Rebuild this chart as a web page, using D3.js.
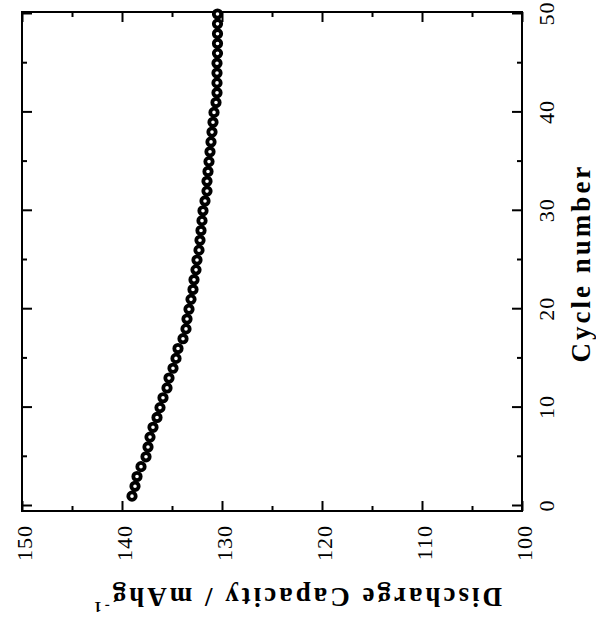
<!DOCTYPE html>
<html>
<head>
<meta charset="utf-8">
<script src="https://cdn.jsdelivr.net/npm/d3@7"></script>
<style>
  body { margin: 0; background: #fff; }
  svg { display: block; }
</style>
</head>
<body>
<svg id="chart" width="596" height="627"></svg>
<script>
// cycle number vs discharge capacity (the figure is printed turned 90 degrees)
var cycles = [1,2,3,4,5,6,7,8,9,10,11,12,13,14,15,16,17,18,19,20,21,22,23,24,25,
              26,27,28,29,30,31,32,33,34,35,36,37,38,39,40,41,42,43,44,45,46,47,48,49,50]
var capacity = [139.0,138.7,138.5,138.1,137.6,137.4,137.2,136.9,136.5,136.2,
                135.9,135.5,135.3,134.9,134.6,134.4,133.9,133.6,133.5,133.3,
                133.1,132.9,132.8,132.6,132.5,132.3,132.2,132.1,132.0,131.9,
                131.7,131.5,131.5,131.4,131.3,131.2,131.1,131.0,130.9,130.8,
                130.6,130.5,130.5,130.5,130.5,130.45,130.45,130.45,130.45,130.45]
var cycleTicks = [0,10,20,30,40,50]
var cycleMinor = [5,15,25,35,45]
var capTicks = [150,140,130,120,110,100]
var capMinor = [145,135,125,115,105]

var font = "'Liberation Serif', 'Times New Roman', serif"

var svg = d3.select("#chart")

// draw a normal chart then turn it -90deg
var g = svg.append("g")
    .attr("transform", "translate(0,627) rotate(-90)")

var frame = { left: 116, right: 615, top: 22, bottom: 522 }

var x = d3.scaleLinear()
    .domain([0, 50])
    .range([121, 613])

var y = d3.scaleLinear()
    .domain([100, 150])
    .range([522, 22])

function styleAxis(sel) {
    sel.select(".domain").remove()
    sel.selectAll("line").attr("stroke", "#000").attr("stroke-width", 2)
    sel.selectAll("text")
        .attr("fill", "#000")
        .style("font-family", font)
        .style("font-size", "22px")
        .style("letter-spacing", "1px")
}

// cycle axis (right side on screen)
g.append("g")
    .attr("transform", "translate(0," + frame.bottom + ")")
    .call(d3.axisBottom(x).tickValues(cycleTicks).tickSizeInner(-10).tickSizeOuter(0).tickPadding(16))
    .call(styleAxis)
g.append("g")
    .attr("transform", "translate(0," + frame.bottom + ")")
    .call(d3.axisBottom(x).tickValues(cycleMinor).tickFormat("").tickSizeInner(-5).tickSizeOuter(0))
    .call(styleAxis)
g.append("g")
    .attr("transform", "translate(0," + frame.top + ")")
    .call(d3.axisTop(x).tickValues(cycleTicks).tickFormat("").tickSizeInner(-10).tickSizeOuter(0))
    .call(styleAxis)
g.append("g")
    .attr("transform", "translate(0," + frame.top + ")")
    .call(d3.axisTop(x).tickValues(cycleMinor).tickFormat("").tickSizeInner(-5).tickSizeOuter(0))
    .call(styleAxis)

// capacity axis (bottom on screen)
g.append("g")
    .attr("transform", "translate(" + frame.left + ",0)")
    .call(d3.axisLeft(y).tickValues(capTicks).tickSizeInner(-10).tickSizeOuter(0).tickPadding(14))
    .call(styleAxis)
    .selectAll("text").attr("dy", "0.45em")
g.append("g")
    .attr("transform", "translate(" + frame.left + ",0)")
    .call(d3.axisLeft(y).tickValues(capMinor).tickFormat("").tickSizeInner(-5).tickSizeOuter(0))
    .call(styleAxis)
g.append("g")
    .attr("transform", "translate(" + frame.right + ",0)")
    .call(d3.axisRight(y).tickValues(capTicks).tickFormat("").tickSizeInner(-10).tickSizeOuter(0))
    .call(styleAxis)
g.append("g")
    .attr("transform", "translate(" + frame.right + ",0)")
    .call(d3.axisRight(y).tickValues(capMinor).tickFormat("").tickSizeInner(-5).tickSizeOuter(0))
    .call(styleAxis)

g.append("rect")
    .attr("x", frame.left)
    .attr("y", frame.top)
    .attr("width", frame.right - frame.left)
    .attr("height", frame.bottom - frame.top)
    .attr("fill", "none")
    .attr("stroke", "#000")
    .attr("stroke-width", 2)

// points
g.selectAll("circle.pt")
    .data(cycles)
    .enter()
    .append("circle")
    .attr("class", "pt")
    .attr("cx", function (d) { return x(d) })
    .attr("cy", function (d, i) { return y(capacity[i]) })
    .attr("r", 3.7)
    .attr("fill", "#fff")
    .attr("stroke", "#000")
    .attr("stroke-width", 3.8)

// axis titles
g.append("text")
    .attr("x", 364)
    .attr("y", 590)
    .attr("text-anchor", "middle")
    .style("font-family", font)
    .style("font-weight", "bold")
    .style("font-size", "27px")
    .style("letter-spacing", "3px")
    .text("Cycle number")

var ylab = g.append("text")
    .attr("transform", "translate(39,502) rotate(-90)")
    .attr("text-anchor", "start")
    .style("font-family", font)
    .style("font-weight", "bold")
    .style("font-size", "27px")
    .style("letter-spacing", "3px")
ylab.append("tspan").text("Discharge Capacity / mAhg")
ylab.append("tspan")
    .attr("dy", -14)
    .style("font-size", "15px")
    .text("-1")
</script>
</body>
</html>
